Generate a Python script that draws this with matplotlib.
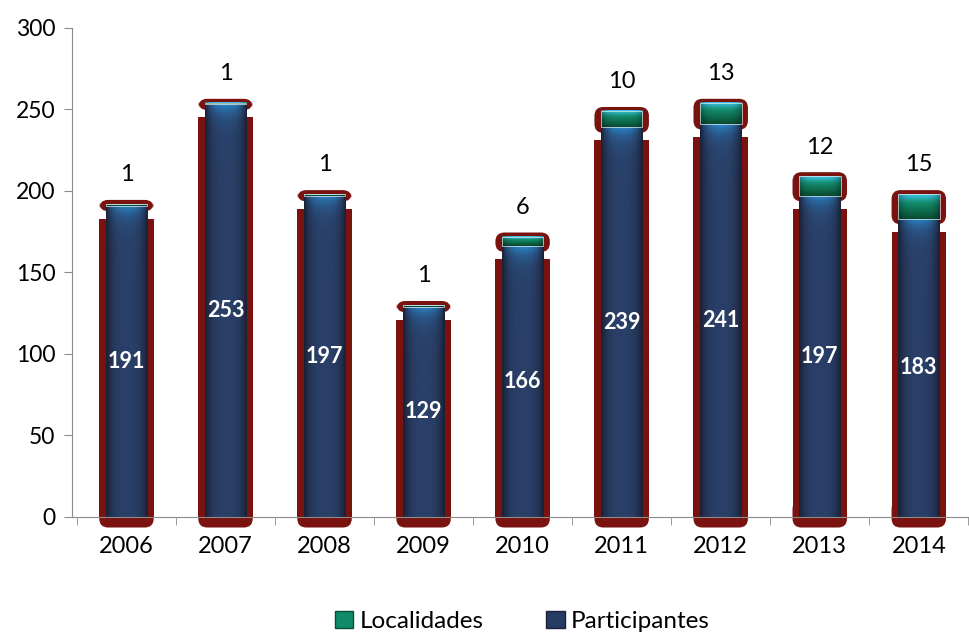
import matplotlib.pyplot as plt
import numpy as np
from matplotlib.colors import to_rgb
from matplotlib.patches import FancyBboxPatch, Rectangle, Patch

years = ["2006", "2007", "2008", "2009", "2010", "2011", "2012", "2013", "2014"]
participantes = [191, 253, 197, 129, 166, 239, 241, 197, 183]
localidades = [1, 1, 1, 1, 6, 10, 13, 12, 15]

plt.rcParams["font.family"] = ["Lato", "DejaVu Sans"]

navy = "#263c62"
shadow = "#7a1210"
grey = "#8c8c8c"

figure = plt.figure(figsize=(9.69, 6.32), dpi=100)
axis = figure.add_axes([0.0743, 0.182, 0.925, 0.774])

# pixels per data unit on each axis
px_x = 0.925 * 969 / 8.95
px_y = 0.774 * 632 / 300
aspect = px_x / px_y
bar_w = 0.42


def mix(a, b, t):
    a = np.array(to_rgb(a))
    b = np.array(to_rgb(b))
    t = np.asarray(t)[..., None]
    return a * (1 - t) + b * t


def navy_image(height):
    rows = max(int(height * px_y), 2)
    u = np.abs(np.linspace(-1, 1, 42))
    img = mix("#2a4068", "#1a2036", np.tile(u ** 3, (rows, 1)))
    depth = np.arange(rows)[:, None]
    glow = np.exp(-depth / 10.0) * (1 - u ** 2)[None, :]
    img = img * (1 - glow[..., None]) + np.array(to_rgb("#2a88cc")) * glow[..., None]
    return img


def teal_image(height):
    rows = max(int(height * px_y), 2)
    v = np.linspace(0, 1, rows)[:, None]
    u = np.abs(np.linspace(-1, 1, 42))[None, :]
    top = mix("#3cc3e4", "#138c6c", np.clip(v / 0.35, 0, 1))
    low = mix("#138c6c", "#0a4d33", np.clip((v - 0.35) / 0.65, 0, 1))
    img = np.where(v[..., None] < 0.35, top, low)
    img = img * (1 - 0.35 * u[..., None] ** 4)
    return img


x = np.arange(len(years))

for pos, part, loc in zip(x, participantes, localidades):
    # dark red shadow behind each bar
    axis.add_patch(FancyBboxPatch((pos - 0.235, -4), 0.47, 12, boxstyle="round,pad=0.04,rounding_size=0.09",
                                  mutation_aspect=aspect, facecolor=shadow, edgecolor="none",
                                  clip_on=False, zorder=1))
    axis.add_patch(Rectangle((pos - 0.275, 0), 0.55, part - 8, facecolor=shadow, edgecolor="none", zorder=1))
    # glow around the top segment
    axis.add_patch(FancyBboxPatch((pos - 0.235, part - 1), 0.47, loc + 1,
                                  boxstyle="round,pad=0.04,rounding_size=0.09",
                                  mutation_aspect=aspect, facecolor=shadow, edgecolor="none", zorder=1))

    x0, x1 = pos - bar_w / 2, pos + bar_w / 2
    axis.imshow(navy_image(part), extent=[x0, x1, 0, part], aspect="auto",
                interpolation="bilinear", zorder=3)
    axis.imshow(teal_image(loc), extent=[x0, x1, part, part + loc], aspect="auto",
                interpolation="bilinear", zorder=3)
    axis.add_patch(Rectangle((x0, part), bar_w, loc, facecolor="none", edgecolor="#e8f0ee",
                             linewidth=0.6, alpha=0.8, zorder=4))

for pos, part, loc in zip(x, participantes, localidades):
    axis.text(pos, part / 2, str(part), ha="center", va="center", color="white",
              fontsize=15.5, fontweight="bold", zorder=5)
    axis.annotate(str(loc), (pos, part + loc), xytext=(0, 21), textcoords="offset points",
                  ha="center", va="center", fontsize=17, color="black")

axis.set_xlim(-0.55, 8.4)
axis.set_ylim(0, 300)
axis.set_yticks(np.arange(0, 301, 50))
axis.set_xticks(x)
axis.set_xticklabels(years)
axis.set_xticks(np.arange(-0.5, 9, 1), minor=True)
axis.tick_params(axis="x", which="major", length=0, labelsize=17, pad=14)
axis.tick_params(axis="x", which="minor", length=6, color=grey)
axis.tick_params(axis="y", length=6, color=grey, labelsize=16.5, pad=6)
for side in ["top", "right"]:
    axis.spines[side].set_visible(False)
axis.spines["left"].set_color(grey)
axis.spines["bottom"].set_color(grey)
axis.spines["bottom"].set_zorder(6)

handles = [Patch(facecolor="#108a68", edgecolor="#0a4d33", label="Localidades"),
           Patch(facecolor=navy, edgecolor="#1a2036", label="Participantes")]
figure.legend(handles=handles, loc="center", bbox_to_anchor=(0.539, 0.017), ncol=2,
              frameon=False, fontsize=17.5, handlelength=0.75, handleheight=0.75, columnspacing=2.6,
              handletextpad=0.25)

figure.savefig("out.png", dpi=100)
plt.close(figure)
